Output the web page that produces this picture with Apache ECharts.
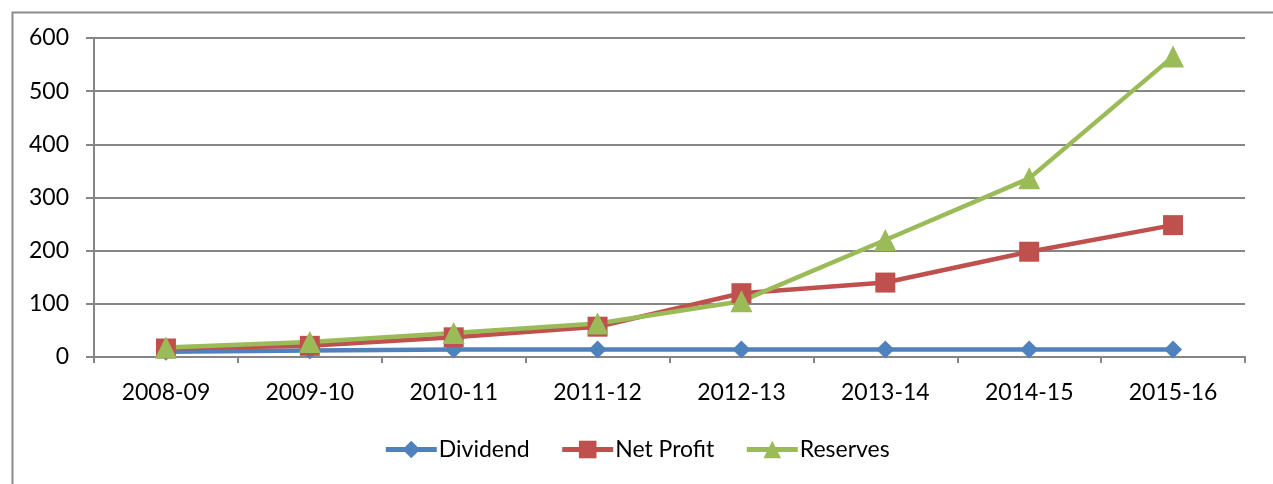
<!DOCTYPE html>
<html>
<head>
<meta charset="utf-8">
<script src="https://cdn.jsdelivr.net/npm/echarts@6/dist/echarts.min.js"></script>
<style>
html,body{margin:0;padding:0;background:#fff;}
#c{width:1273px;height:484px;}
</style>
</head>
<body>
<div id="c"></div>
<script>
const categories = ['2008-09','2009-10','2010-11','2011-12','2012-13','2013-14','2014-15','2015-16'];
const dividend = [10, 12, 14, 14, 14, 14, 14, 14];
const netProfit = [16, 21, 37, 57, 120, 140, 198, 248];
const reserves = [18, 28, 45, 63, 105, 220, 336, 565];
const yTicks = [0, 100, 200, 300, 400, 500, 600];

const FONT = 'Lato, "Liberation Sans", sans-serif';
const chart = echarts.init(document.getElementById('c'));
const lineW = 4.5;
function mk(name, data, color, symbol, size) {
  return {
    name, type: 'line', data, symbol, symbolSize: size,
    showAllSymbol: true,
    lineStyle: { color, width: lineW },
    itemStyle: { color },
    emphasis: { disabled: true },
    animation: false
  };
}
chart.setOption({
  animation: false,
  backgroundColor: '#fff',
  graphic: [{
    type: 'rect', left: 10, top: 10, silent: true,
    shape: { x: 0, y: 0, width: 1300, height: 500 },
    style: { fill: 'none', stroke: '#8c8c8c', lineWidth: 2 }
  }],
  grid: { left: 94, right: 28, top: 38, bottom: 127 },
  legend: {
    bottom: 18, left: 'center',
    itemWidth: 51, itemHeight: 22, itemGap: 30,
    lineStyle: { width: 5 },
    textStyle: { fontFamily: FONT, fontSize: 23, color: '#000', padding: [0,0,0,-3] },
    data: ['Dividend', 'Net Profit', 'Reserves']
  },
  xAxis: {
    type: 'category', data: categories, boundaryGap: true,
    axisLine: { lineStyle: { color: '#868686', width: 2 } },
    axisTick: { show: true, length: 6, lineStyle: { color: '#868686', width: 2 } },
    axisLabel: { fontFamily: FONT, fontSize: 23, color: '#000', margin: 24 }
  },
  yAxis: {
    type: 'value', min: 0, max: 600, interval: 100,
    axisLine: { show: true, lineStyle: { color: '#868686', width: 2 } },
    axisTick: { show: true, length: 8, lineStyle: { color: '#868686', width: 2 } },
    splitLine: { lineStyle: { color: '#868686', width: 2 } },
    axisLabel: { fontFamily: FONT, fontSize: 23, color: '#000', margin: 25,
      formatter: v => yTicks.includes(v) ? String(v) : '' }
  },
  series: [
    mk('Dividend', dividend, '#4F81BD', 'diamond', 18),
    mk('Net Profit', netProfit, '#C0504D', 'rect', 20),
    mk('Reserves', reserves, '#9BBB59', 'triangle', 22)
  ]
});
</script>
</body>
</html>
